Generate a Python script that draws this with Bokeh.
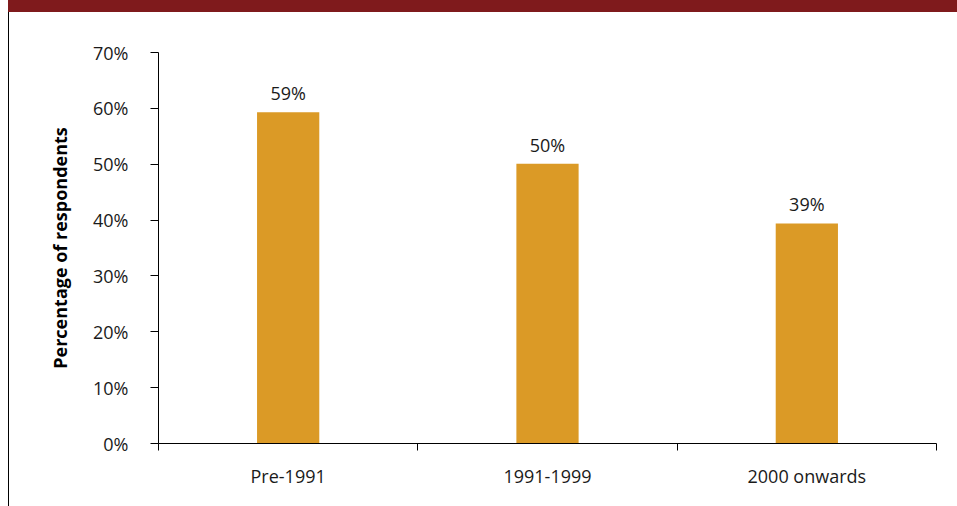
from bokeh.plotting import figure
from bokeh.models import FixedTicker, ColumnDataSource, Range1d
from bokeh.core.properties import value
from bokeh.embed import file_html
from bokeh.resources import INLINE

categories = ["Pre-1991", "1991-1999", "2000 onwards"]
values = [59.3, 50.1, 39.4]
labels = ["59%", "50%", "39%"]
y_ticks = [0, 10, 20, 30, 40, 50, 60, 70]

FONT = "Open Sans"
BAR = "#DB9A26"
BANNER = "#7F1A1C"

x_pos = [i + 0.5 for i in range(len(categories))]
src = ColumnDataSource(dict(x=x_pos, top=values, lab=labels))

bg = (f"linear-gradient({BANNER},{BANNER}) 8px 0px / 949px 12px no-repeat, "
      "linear-gradient(#000,#000) 8px 12px / 1px 494px no-repeat, #ffffff")

p = figure(width=957, height=506, output_backend="svg", toolbar_location=None,
           x_range=Range1d(0, len(categories)), y_range=Range1d(0, 70),
           min_border_left=158, min_border_right=21, min_border_top=52, min_border_bottom=63,
           styles={"background": bg})
p.outline_line_color = None
p.xgrid.visible = False
p.ygrid.visible = False
p.background_fill_alpha = 0
p.border_fill_alpha = 0

p.vbar(x="x", top="top", width=0.24, bottom=0, source=src, fill_color=BAR, line_color=None)
p.text(x="x", y="top", text="lab", source=src, text_align="center", text_baseline="bottom",
       y_offset=-7, text_font=value(FONT), text_font_size="18px", text_color="#1a1a1a")

# x axis: labels at centres, ticks at boundaries
p.xaxis.ticker = FixedTicker(ticks=x_pos, minor_ticks=list(range(len(categories) + 1)))
p.xaxis.major_label_overrides = {x: c for x, c in zip(x_pos, categories)}
p.xaxis.major_tick_in = 0
p.xaxis.major_tick_out = 0
p.xaxis.minor_tick_in = 0
p.xaxis.minor_tick_out = 7
p.xaxis.minor_tick_line_color = "black"
p.xaxis.major_label_standoff = 13
p.xaxis.major_label_text_font = FONT
p.xaxis.major_label_text_font_size = "18px"
p.xaxis.major_label_text_color = "#1a1a1a"
p.xaxis.axis_line_color = "black"

# y axis
p.yaxis.ticker = FixedTicker(ticks=y_ticks)
p.yaxis.major_label_overrides = {t: f"{t}%" for t in y_ticks}
p.yaxis.major_tick_in = 0
p.yaxis.major_tick_out = 8
p.yaxis.minor_tick_line_color = None
p.yaxis.major_tick_line_color = "black"
p.yaxis.major_label_standoff = 22
p.yaxis.major_label_text_font = FONT
p.yaxis.major_label_text_font_size = "18px"
p.yaxis.major_label_text_color = "#1a1a1a"
p.yaxis.axis_line_color = "black"
p.yaxis.axis_label = "Percentage of respondents"
p.yaxis.axis_label_text_font = FONT
p.yaxis.axis_label_text_font_style = "bold"
p.yaxis.axis_label_text_font_size = "18px"
p.yaxis.axis_label_text_color = "black"
p.yaxis.axis_label_standoff = 18

open("out.html", "w").write(file_html(p, INLINE))
